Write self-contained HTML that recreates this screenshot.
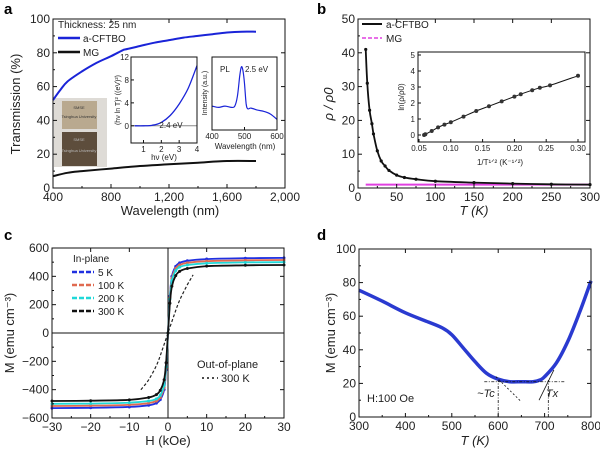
<!DOCTYPE html>
<html><head><meta charset="utf-8">
<style>
html,body{margin:0;padding:0;background:#fff;}
svg{display:block;font-family:"Liberation Sans",Arial,sans-serif;}
</style></head>
<body>
<svg id="fig" width="600" height="450" viewBox="0 0 600 450" xmlns="http://www.w3.org/2000/svg"></svg>
<script>
// ---------- data ----------
const aWave = [400,450,500,600,700,800,880,900,1000,1100,1200,1300,1400,1500,1600,1700,1800];
const aBlue = [52,58,63,69,74,78,81.5,82,84,86,87.5,89,90,91,92,92.5,92.5];
const aMGWave = [400,500,600,800,1000,1200,1400,1600,1800];
const aMG = [7,9,10,11.5,13,14,15,16,16];
const aXTicks = [400,800,1200,1600,2000];
const aXLabels = ["400","800","1,200","1,600","2,000"];
const aYTicks = [0,20,40,60,80,100];
const insHv = [0.5,1,1.5,2,2.5,3,3.5,4];
const insTauc = [0,0,0.1,0.6,1.8,3.8,6.5,10.5];
const plWave = [400,420,440,460,470,478,485,490,495,500,505,510,520,540,560,580,600];
const plInt = [3.6,3.4,3.6,3.4,3.6,5,8,9.5,9,7,4,3.2,3.3,3,2.8,2.4,1.6];
const bT = [10,12,15,18,20,25,30,35,40,50,60,75,100,150,200,250,300];
const bRho = [41,31,23,19,16,11,8,6.5,5.2,3.8,3.1,2.6,2,1.6,1.3,1.1,1];
const bMGT = [10,300];
const bMG = [1,1];
const bInsX = [0.058,0.06,0.07,0.08,0.09,0.1,0.12,0.14,0.16,0.18,0.2,0.21,0.228,0.24,0.256,0.3];
const bInsY = [0,0.05,0.25,0.48,0.65,0.8,1.15,1.5,1.8,2.1,2.4,2.55,2.8,2.95,3.1,3.7];
const cH = [-30,-20,-10,-5,-3,-2,-1,-0.5,0,0.5,1,2,3,5,10,20,30];
const c5K = [-530,-528,-522,-510,-495,-470,-400,-260,0,260,400,470,495,510,522,528,530];
const c100K = [-515,-513,-507,-495,-480,-455,-385,-250,0,250,385,455,480,495,507,513,515];
const c200K = [-500,-498,-492,-480,-465,-440,-370,-240,0,240,370,440,465,480,492,498,500];
const c300K = [-480,-478,-472,-455,-435,-405,-330,-210,0,210,330,405,435,455,472,478,480];
const cOutH = [-7,-5,-3,-1.5,0,1.5,3,5,6.5];
const cOutM = [-400,-330,-230,-120,0,120,230,340,410];
const dT = [300,350,400,450,480,500,525,550,575,600,625,650,675,690,700,725,750,775,800];
const dM = [75.5,69,62,56.5,53,49,41,33,26,22.5,21,21,21,22,24,32,45,62,81];

// ---------- helpers ----------
const NS = "http://www.w3.org/2000/svg";
const svg = document.getElementById("fig");
function mk(tag, attrs, parent){
  const e = document.createElementNS(NS, tag);
  for (const k in attrs) e.setAttribute(k, attrs[k]);
  (parent||svg).appendChild(e);
  return e;
}
function nm(e, name, inter){
  
  
  return e;
}
function lin(d0,d1,p0,p1){ return v => p0 + (v-d0)*(p1-p0)/(d1-d0); }
function txt(x,y,s,opt){
  opt = opt||{};
  const e = mk("text",{x:x,y:y,"font-size":opt.size||12,"text-anchor":opt.anchor||"middle",fill:opt.fill||"#222"});
  if (opt.weight) e.setAttribute("font-weight",opt.weight);
  if (opt.style) e.setAttribute("font-style",opt.style);
  if (opt.rot) e.setAttribute("transform","rotate(-90 "+x+" "+y+")");
  e.textContent = s;
  return e;
}
// smooth path (Catmull-Rom -> cubic bezier)
function path(xs,ys,fx,fy,attrs){
  const P = xs.map((x,i)=>[fx(x),fy(ys[i])]);
  let d = "M"+P[0][0].toFixed(1)+","+P[0][1].toFixed(1);
  for (let i=0;i<P.length-1;i++){
    const p0=P[Math.max(0,i-1)],p1=P[i],p2=P[i+1],p3=P[Math.min(P.length-1,i+2)];
    const c1=[p1[0]+(p2[0]-p0[0])/6,p1[1]+(p2[1]-p0[1])/6];
    const c2=[p2[0]-(p3[0]-p1[0])/6,p2[1]-(p3[1]-p1[1])/6];
    d += "C"+c1[0].toFixed(1)+","+c1[1].toFixed(1)+" "+c2[0].toFixed(1)+","+c2[1].toFixed(1)+" "+p2[0].toFixed(1)+","+p2[1].toFixed(1);
  }
  attrs.d = d; attrs.fill = attrs.fill||"none";
  return mk("path",attrs);
}
function dots(xs,ys,fx,fy,r,col){
  for (let i=0;i<xs.length;i++){
    const c = mk("circle",{cx:fx(xs[i]),cy:fy(ys[i]),r:r,fill:col});
    nm(c,'data-point');
  }
}
function frame(x0,y0,x1,y1,name,sw){
  const r = mk("rect",{x:x0,y:y0,width:x1-x0,height:y1-y0,fill:"none",stroke:"#111","stroke-width":sw||1});
  nm(r,name);
}
function xticks(vals,labels,fx,yb,yt,size,name,minor){
  vals.forEach((v,i)=>{
    const x = fx(v);
    mk("line",{x1:x,x2:x,y1:yb,y2:yb-4,stroke:"#111"});
    mk("line",{x1:x,x2:x,y1:yt,y2:yt+4,stroke:"#111"});
    const t = txt(x,yb+13,labels[i],{size:size});
    nm(t,name+'-tick-label');
  });
  (minor||[]).forEach(v=>{
    const x = fx(v);
    mk("line",{x1:x,x2:x,y1:yb,y2:yb-2,stroke:"#111"});
  });
}
function yticks(vals,labels,fy,xl,xr,size,name,minor){
  vals.forEach((v,i)=>{
    const y = fy(v);
    mk("line",{x1:xl,x2:xl+4,y1:y,y2:y,stroke:"#111"});
    mk("line",{x1:xr,x2:xr-4,y1:y,y2:y,stroke:"#111"});
    const t = txt(xl-3,y+4,labels[i],{size:size,anchor:"end"});
    nm(t,name+'-tick-label');
  });
  (minor||[]).forEach(v=>{
    const y = fy(v);
    mk("line",{x1:xl,x2:xl+2,y1:y,y2:y,stroke:"#111"});
  });
}

// ================= Panel a =================
{
  const L=53,R=285,T=19,B=188;
  const fx = lin(400,2000,L,R), fy = lin(0,100,B,T);
  nm(txt(4,14,"a",{size:15,weight:"bold",anchor:"start",fill:"#000"}),'panel-a-label');
  nm(mk("rect",{x:54,y:98,width:53,height:69,fill:"#dedbd6"}),'sample-photo');
  nm(mk("rect",{x:62,y:101,width:35,height:28,fill:"#b9a98f"}),'photo-film-light');
  nm(mk("rect",{x:62,y:132,width:35,height:34,fill:"#5d4d3c"}),'photo-film-dark');
  nm(txt(79,109,"SMSE",{size:4,fill:"#333"}),'photo-text');
  nm(txt(79,118,"Tsinghua University",{size:4,fill:"#333"}),'photo-text');
  nm(txt(79,141,"SMSE",{size:4,fill:"#bbb"}),'photo-text');
  nm(txt(79,152,"Tsinghua University",{size:4,fill:"#bbb"}),'photo-text');
  nm(path(aWave,aBlue,fx,fy,{stroke:"#1a24d8","stroke-width":2}),'a-cftbo-transmission-line');
  nm(path(aMGWave,aMG,fx,fy,{stroke:"#111","stroke-width":2}),'mg-transmission-line');
  frame(L,T,R,B,'panel-a-plot-area');
  xticks(aXTicks,aXLabels,fx,B,T,12,'a-x',[600,1000,1400,1800]);
  yticks(aYTicks,aYTicks.map(String),fy,L,R,12,'a-y',[10,30,50,70,90]);
  nm(txt(170,215,"Wavelength (nm)",{size:13}),'a-x-axis-title');
  nm(txt(20,104,"Transmission (%)",{size:13,rot:true}),'a-y-axis-title');
  nm(txt(58,28,"Thickness: 25 nm",{size:10,anchor:"start"}),'thickness-note');
  nm(mk("line",{x1:58,x2:80,y1:38,y2:38,stroke:"#1a24d8","stroke-width":2.5}),'legend-swatch-a-cftbo');
  nm(txt(83,42,"a-CFTBO",{size:10,anchor:"start"}),'legend-entry-a-cftbo');
  nm(mk("line",{x1:58,x2:80,y1:52,y2:52,stroke:"#111","stroke-width":2.5}),'legend-swatch-mg');
  nm(txt(83,56,"MG",{size:10,anchor:"start"}),'legend-entry-mg');
  {
    const l=131,r=197,t=57,b=143;
    mk("rect",{x:l,y:t,width:r-l,height:b-t,fill:"#fff"});
    const gx = lin(0.3,4,l,r), gy = lin(-3,12,b,t);
    nm(mk("line",{x1:l,x2:r,y1:gy(0),y2:gy(0),stroke:"#888"}),'tauc-baseline');
    nm(path(insHv,insTauc,gx,gy,{stroke:"#1a24d8","stroke-width":1.3}),'tauc-curve');
    frame(l,t,r,b,'tauc-inset');
    [1,2,3,4].forEach(v=>{const x=gx(v);mk("line",{x1:x,x2:x,y1:b,y2:b-3,stroke:"#111"});nm(txt(x,b+9,String(v),{size:8}),'tauc-x-tick-label');});
    [0,4,8,12].forEach(v=>{const y=gy(v);mk("line",{x1:l,x2:l+3,y1:y,y2:y,stroke:"#111"});nm(txt(l-2,y+3,String(v),{size:8,anchor:"end"}),'tauc-y-tick-label');});
    nm(txt(164,160,"hν (eV)",{size:8}),'tauc-x-title');
    nm(txt(120,100,"(hν ln T)² ((eV)²)",{size:7,rot:true}),'tauc-y-title');
    nm(txt(171,128,"2.4 eV",{size:8}),'tauc-annotation');
  }
  {
    const l=212,r=277,t=57,b=130;
    mk("rect",{x:l,y:t,width:r-l,height:b-t,fill:"#fff"});
    const gx = lin(400,600,l,r), gy = lin(0,11,b,t);
    nm(path(plWave,plInt,gx,gy,{stroke:"#1a24d8","stroke-width":1.2}),'pl-spectrum');
    frame(l,t,r,b,'pl-inset');
    [400,500,600].forEach(v=>{const x=gx(v);mk("line",{x1:x,x2:x,y1:b,y2:b-3,stroke:"#111"});nm(txt(x,b+9,String(v),{size:8}),'pl-x-tick-label');});
    nm(txt(245,149,"Wavelength (nm)",{size:8}),'pl-x-title');
    nm(txt(207,93,"Intensity (a.u.)",{size:7,rot:true}),'pl-y-title');
    nm(txt(220,72,"PL",{size:8,anchor:"start"}),'pl-label');
    nm(txt(245,72,"2.5 eV",{size:8,anchor:"start"}),'pl-peak-label');
  }
}

// ================= Panel b =================
{
  const L=358,R=590,T=19,B=188;
  const fx = lin(0,300,L,R), fy = lin(0,50,B,T);
  nm(txt(317,14,"b",{size:15,weight:"bold",anchor:"start",fill:"#000"}),'panel-b-label');
  nm(path(bMGT,bMG,fx,fy,{stroke:"#e040e0","stroke-width":2}),'mg-resistivity-line');
  nm(path(bT,bRho,fx,fy,{stroke:"#111","stroke-width":1.8}),'a-cftbo-resistivity-line');
  dots(bT,bRho,fx,fy,1.6,"#111");
  frame(L,T,R,B,'panel-b-plot-area');
  xticks([0,50,100,150,200,250,300],["0","50","100","150","200","250","300"],fx,B,T,12,'b-x',[25,75,125,175,225,275]);
  yticks([0,10,20,30,40,50],["0","10","20","30","40","50"],fy,L,R,12,'b-y',[5,15,25,35,45]);
  nm(txt(474,215,"T (K)",{size:13,style:"italic"}),'b-x-axis-title');
  nm(txt(333,104,"ρ / ρ0",{size:13,rot:true,style:"italic"}),'b-y-axis-title');
  nm(mk("line",{x1:362,x2:382,y1:24,y2:24,stroke:"#111","stroke-width":2}),'legend-swatch-a-cftbo');
  nm(txt(386,28,"a-CFTBO",{size:10,anchor:"start"}),'legend-entry-a-cftbo');
  nm(mk("line",{x1:362,x2:382,y1:38,y2:38,stroke:"#e040e0","stroke-width":1.5,"stroke-dasharray":"4 2"}),'legend-swatch-mg');
  nm(txt(386,42,"MG",{size:10,anchor:"start"}),'legend-entry-mg');
  {
    const l=418,r=585,t=52,b=142;
    mk("rect",{x:l,y:t,width:r-l,height:b-t,fill:"#fff"});
    const gx = lin(0.05,0.3,419,578), gy = lin(0,5,135,55);
    nm(path(bInsX,bInsY,gx,gy,{stroke:"#111","stroke-width":1}),'ln-rho-fit-line');
    dots(bInsX,bInsY,gx,gy,2,"#333");
    frame(l,t,r,b,'ln-rho-inset');
    [0.05,0.1,0.15,0.2,0.25,0.3].forEach(v=>{const x=gx(v);mk("line",{x1:x,x2:x,y1:b,y2:b-3,stroke:"#111"});nm(txt(x,b+9,v.toFixed(2),{size:8}),'inset-x-tick-label');});
    [0,1,2,3,4,5].forEach(v=>{const y=gy(v);mk("line",{x1:l,x2:l+3,y1:y,y2:y,stroke:"#111"});nm(txt(l-3,y+3,String(v),{size:8,anchor:"end"}),'inset-y-tick-label');});
    nm(txt(500,165,"1/T¹ᐟ² (K⁻¹ᐟ²)",{size:8}),'inset-x-title');
    nm(txt(404,97,"ln(ρ/ρ0)",{size:8,rot:true}),'inset-y-title');
  }
}

// ================= Panel c =================
{
  const L=52,R=284,T=248,B=418;
  const fx = lin(-30,30,L,R), fy = lin(-600,600,B,T);
  nm(txt(4,240,"c",{size:15,weight:"bold",anchor:"start",fill:"#000"}),'panel-c-label');
  nm(mk("line",{x1:L,x2:R,y1:fy(0),y2:fy(0),stroke:"#111"}),'c-zero-h-line');
  nm(mk("line",{x1:fx(0),x2:fx(0),y1:T,y2:B,stroke:"#111"}),'c-zero-v-line');
  nm(path(cOutH,cOutM,fx,fy,{stroke:"#222","stroke-width":1.2,"stroke-dasharray":"3 2"}),'out-of-plane-300k-line');
  const ser = [[c5K,"#2030e0",'5k-loop'],[c100K,"#e06a50",'100k-loop'],[c200K,"#20d8d8",'200k-loop'],[c300K,"#111",'300k-loop']];
  ser.forEach(s=>{
    nm(path(cH,s[0],fx,fy,{stroke:s[1],"stroke-width":1.8}),s[2]);
    dots(cH,s[0],fx,fy,1.5,s[1]);
  });
  frame(L,T,R,B,'panel-c-plot-area');
  xticks([-30,-20,-10,0,10,20,30],["−30","−20","−10","0","10","20","30"],fx,B,T,12,'c-x',[-25,-15,-5,5,15,25]);
  yticks([-600,-400,-200,0,200,400,600],["−600","−400","−200","0","200","400","600"],fy,L,R,12,'c-y',[-500,-300,-100,100,300,500]);
  nm(txt(168,445,"H (kOe)",{size:13}),'c-x-axis-title');
  nm(txt(14,333,"M (emu cm⁻³)",{size:13,rot:true}),'c-y-axis-title');
  nm(txt(73,262,"In-plane",{size:10,anchor:"start"}),'legend-title-in-plane');
  const leg = [["5 K","#2030e0"],["100 K","#e06a50"],["200 K","#20d8d8"],["300 K","#111"]];
  leg.forEach((g,i)=>{
    const y = 272+i*13;
    nm(mk("line",{x1:72,x2:94,y1:y,y2:y,stroke:g[1],"stroke-width":2.5,"stroke-dasharray":"5 2"}),'legend-swatch-'+i);
    nm(txt(98,y+4,g[0],{size:10,anchor:"start"}),'legend-entry-'+g[0].replace(' ','').toLowerCase());
  });
  nm(txt(197,368,"Out-of-plane",{size:11,anchor:"start"}),'legend-title-out-of-plane');
  nm(mk("line",{x1:202,x2:218,y1:378,y2:378,stroke:"#111","stroke-width":1.5,"stroke-dasharray":"2 3"}),'legend-swatch-out-of-plane');
  nm(txt(221,382,"300 K",{size:11,anchor:"start"}),'legend-entry-out-of-plane-300k');
}

// ================= Panel d =================
{
  const L=359,R=591,T=249,B=417;
  const fx = lin(300,800,L,R), fy = lin(0,100,B,T);
  nm(txt(317,240,"d",{size:15,weight:"bold",anchor:"start",fill:"#000"}),'panel-d-label');
  nm(path(dT,dM,fx,fy,{stroke:"#2a3ad0","stroke-width":3.5,"stroke-linejoin":"round"}),'magnetization-curve');
  const ds = {stroke:"#111","stroke-width":0.8,"stroke-dasharray":"3 1.5 1 1.5"};
  nm(mk("line",Object.assign({x1:fx(570),x2:fx(745),y1:fy(21),y2:fy(21)},ds)),'baseline-guide');
  nm(mk("line",Object.assign({x1:fx(600),x2:fx(600),y1:fy(0),y2:fy(22)},ds)),'tc-guide');
  nm(mk("line",Object.assign({x1:fx(708),x2:fx(708),y1:fy(0),y2:fy(22)},ds)),'tx-guide');
  nm(mk("line",{x1:fx(595),x2:fx(650),y1:fy(24),y2:fy(9),stroke:"#111","stroke-width":0.8,"stroke-dasharray":"2 2"}),'tc-tangent');
  nm(mk("line",{x1:fx(688),x2:fx(720),y1:fy(10),y2:fy(28),stroke:"#111","stroke-width":0.8}),'tx-tangent');
  frame(L,T,R,B,'panel-d-plot-area');
  xticks([300,400,500,600,700,800],["300","400","500","600","700","800"],fx,B,T,12,'d-x',[350,450,550,650,750]);
  yticks([0,20,40,60,80,100],["0","20","40","60","80","100"],fy,L,R,12,'d-y',[10,30,50,70,90]);
  nm(txt(475,445,"T (K)",{size:13,style:"italic"}),'d-x-axis-title');
  nm(txt(335,333,"M (emu cm⁻³)",{size:13,rot:true}),'d-y-axis-title');
  nm(txt(367,402,"H:100 Oe",{size:11,anchor:"start"}),'field-note');
  nm(txt(486,397,"~Tc",{size:11,anchor:"middle",style:"italic"}),'tc-label');
  nm(txt(552,397,"Tx",{size:11,anchor:"middle",style:"italic"}),'tx-label');
}
</script>
</body></html>
